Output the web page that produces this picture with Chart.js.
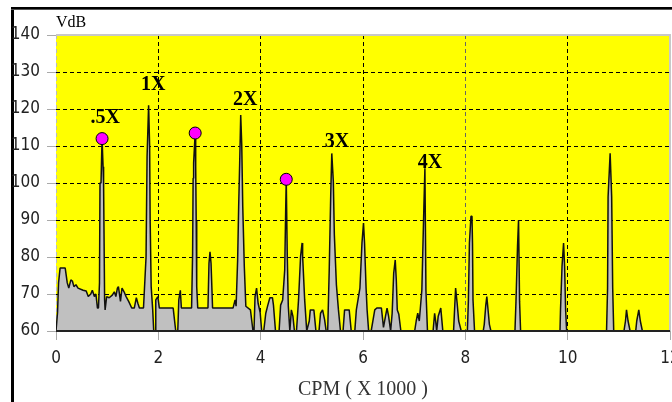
<!DOCTYPE html>
<html><head><meta charset="utf-8">
<script src="https://cdn.jsdelivr.net/npm/chart.js@4/dist/chart.umd.min.js"></script>
<style>
html,body{margin:0;padding:0;background:#fff;overflow:hidden;width:672px;height:402px;}
#wrap{position:absolute;left:0;top:0;width:720px;height:402px;}
</style></head><body>
<div id="wrap"><canvas id="c" width="720" height="402"></canvas></div>
<script>
// ---- data ----
const freqK = [
 0.00,0.03,0.05,0.08,0.18,0.22,0.25,0.29,0.32,0.35,0.39,0.43,0.53,0.59,0.63,0.68,0.71,0.75,0.78,0.81,0.83,0.85,0.86,0.88,0.90,0.92,0.93,0.95,0.96,0.99,
 1.04,1.10,1.14,1.17,1.20,1.22,1.26,1.29,1.33,1.37,1.42,1.48,1.53,1.57,1.60,1.63,1.71,1.76,1.78,1.81,1.83,1.84,1.86,1.89,1.91,1.94,1.95,1.99,
 2.02,2.29,2.34,2.38,2.40,2.43,2.45,2.65,2.67,2.68,2.69,2.72,2.73,2.74,2.75,2.77,2.97,2.99,
 3.01,3.03,3.06,3.46,3.50,3.52,3.55,3.57,3.59,3.61,3.63,3.65,3.68,3.71,3.80,3.85,3.87,3.89,3.92,3.95,3.99,
 4.02,4.06,4.10,4.14,4.18,4.23,4.25,4.29,4.36,4.39,4.43,4.47,4.49,4.50,4.52,4.54,4.57,4.60,4.63,4.66,4.70,4.74,4.78,4.81,4.82,4.86,4.90,4.95,4.97,
 5.04,5.08,5.14,5.17,5.21,5.25,5.28,5.31,5.34,5.37,5.39,5.42,5.44,5.48,5.52,5.56,5.61,5.64,5.73,5.77,5.84,5.87,5.94,5.98,
 6.01,6.03,6.06,6.08,6.11,6.16,6.23,6.27,6.36,6.40,6.44,6.47,6.50,6.54,6.57,6.60,6.63,6.65,6.67,6.70,6.74,
 7.01,7.04,7.07,7.10,7.15,7.19,7.21,7.23,7.26,7.37,7.40,7.42,7.44,7.47,7.52,7.56,7.77,7.81,7.84,7.87,7.92,
 8.04,8.06,8.08,8.11,8.13,8.14,8.15,8.18,8.35,8.37,8.40,8.42,8.45,8.47,8.50,8.97,8.99,
 9.02,9.04,9.06,9.08,9.85,9.86,9.89,9.92,9.94,9.96,9.98,
 10.76,10.78,10.79,10.83,10.86,10.88,10.90,
 11.10,11.13,11.15,11.18,11.22,11.33,11.35,11.39,11.42,11.46,12.00
];
const ampDb = [
 60,65,73,77,77,73,71.6,73.8,73.5,72,72.5,71.6,71,70.8,69.3,70,71,69.3,70,66.2,66.2,73,100,100,112,104.4,100,68.4,65.7,69.3,
 69,69.7,70.6,69.3,71.6,72,68,71.6,70.6,69.3,68,66.2,66.2,69,67.5,66.2,66.2,80,107,121,110,90,72,65.7,60,60,68.4,69.3,
 66.2,66.2,60,60,68.4,71,66.2,66.2,81,101.3,105.4,113.5,104.5,90,72,66.2,66.2,78.3,
 81.4,78.3,66.2,66.2,68.4,66.7,79.2,93.6,105.4,118.4,110.4,93.6,77.5,66.7,65.7,60,60,69.3,71.6,67.5,65,
 60,60,64.8,67,69,69,67,60,60,67,68.4,76.5,93.6,101,80.2,66.7,60,65.7,64,60,60,68.4,80.2,83.8,80.2,68.4,60,62.7,65.7,
 65.7,60,60,64.8,65.7,63,60,60,76.5,97.2,108,100.4,86,72.5,65.7,60,60,65.7,65.7,60,60,65.7,71.6,83.8,
 89.2,83.8,71.6,65.7,60,60,65.7,66.2,66.2,61,64,66.2,64,60,64.8,75.6,79.2,74,65.7,64.5,60,
 60,62.7,64.8,62.7,71,93.6,104,71,60,60,64.8,62.7,60,64,66.2,60,60,71.6,67.5,62.7,60,
 60,68.4,83.8,91,91,83.8,68.4,60,60,61.8,67,69.3,64.8,61.8,60,60,68,
 82.9,90,68,60,60,65.7,77.5,83.8,77.5,65.7,60,
 60,71.6,96.3,108,96.3,71.6,60,
 60,62.7,65.7,62.7,60,60,62.7,65.7,62.7,60,60
];
const markerFreq = [0.90, 2.72, 4.50];
const markerDb = [112, 113.5, 101];
const orderLabels = ['.5X', '1X', '2X', '3X', '4X'];
const orderLabelFreq = [0.96, 1.90, 3.70, 5.49, 7.31];
const orderLabelDb = [117.6, 126.5, 122.4, 111.1, 105.4];
const yTicks = [60, 70, 80, 90, 100, 110, 120, 130, 140];
const xTicks = [0, 2, 4, 6, 8, 10, 12];
const yUnit = 'VdB';
const xTitle = 'CPM ( X 1000 )';

// ---- drawing ----
const tickFont = {family: "'Liberation Sans Narrow','DejaVu Sans Condensed','Arial Narrow',sans-serif", size: 17};

const framePlugin = {
  id: 'frame',
  beforeDraw(chart) {
    const {ctx, chartArea: a} = chart;
    ctx.save();
    ctx.fillStyle = '#fff';
    ctx.fillRect(0, 0, chart.width, chart.height);
    ctx.fillStyle = '#000';
    ctx.fillRect(11, 7, 3, chart.height - 7);
    ctx.fillRect(11, 7, chart.width - 11, 2);
    ctx.fillStyle = '#555';
    ctx.fillRect(11, 9, chart.width - 11, 1);
    ctx.fillStyle = '#ffff00';
    ctx.fillRect(a.left, a.top, a.right - a.left, a.bottom - a.top);
    ctx.restore();
  },
  afterDatasetsDraw(chart) {
    const {ctx, chartArea: a, scales} = chart;
    ctx.save();
    ctx.fillStyle = '#c8c8c8';
    ctx.fillRect(a.left, a.top - 1, a.right - a.left + 1, 2);
    ctx.fillRect(a.right - 1, a.top, 2, a.bottom - a.top);
    ctx.fillStyle = '#222';
    ctx.fillRect(a.left, a.bottom - 1, a.right - a.left, 2);
    ctx.fillStyle = '#000';
    ctx.font = "bold 20px 'Liberation Serif', serif";
    ctx.textAlign = 'center';
    ctx.textBaseline = 'middle';
    orderLabels.forEach((t, i) => {
      ctx.fillText(t, scales.x.getPixelForValue(orderLabelFreq[i]), scales.y.getPixelForValue(orderLabelDb[i]));
    });
    ctx.font = "16px 'Liberation Serif', serif";
    ctx.textAlign = 'left';
    ctx.textBaseline = 'alphabetic';
    ctx.fillText(yUnit, a.left, 27);
    ctx.restore();
  }
};

new Chart(document.getElementById('c'), {
  type: 'scatter',
  data: {
    datasets: [
      {
        data: markerFreq.map((f, i) => ({x: f, y: markerDb[i]})),
        showLine: false,
        pointRadius: 6,
        pointBackgroundColor: '#ff00ff',
        pointBorderColor: '#000',
        pointBorderWidth: 1
      },
      {
        data: freqK.map((f, i) => ({x: f, y: ampDb[i]})),
        showLine: true,
        borderColor: '#111',
        borderWidth: 1.5,
        borderJoinStyle: 'bevel',
        backgroundColor: '#c0c0c0',
        fill: 'start',
        pointRadius: 0,
        tension: 0
      }
    ]
  },
  options: {
    responsive: false,
    animation: false,
    devicePixelRatio: 1,
    layout: {padding: {top: 35, right: 50, left: 0, bottom: 0}},
    plugins: {legend: {display: false}, tooltip: {enabled: false}},
    scales: {
      x: {
        type: 'linear', min: 0, max: 12,
        afterBuildTicks: s => { s.ticks = xTicks.map(v => ({value: v})); },
        afterFit: s => { s.height = 71; },
        ticks: {padding: 8, color: '#222', font: tickFont, maxRotation: 0, autoSkip: false},
        grid: {
          color: c => c.tick.value === 0 ? '#bbb' : (c.tick.value === 8 ? '#666' : (c.tick.value === 12 ? 'rgba(0,0,0,0)' : '#000')),
          lineWidth: 1, tickLength: 9, tickColor: '#aaa'
        },
        border: {display: false, dash: [4, 3]},
        title: {display: true, text: xTitle, color: '#333', font: {family: "'Liberation Serif', serif", size: 20}, padding: {top: 0, bottom: 0}}
      },
      y: {
        type: 'linear', min: 60, max: 140,
        afterBuildTicks: s => { s.ticks = yTicks.map(v => ({value: v})); },
        afterFit: s => { s.width = 56; },
        ticks: {padding: 7, color: '#222', font: tickFont},
        grid: {
          color: c => (c.tick.value === 60 || c.tick.value === 140) ? 'rgba(0,0,0,0)' : '#000',
          lineWidth: 1, tickLength: 9, tickColor: '#aaa'
        },
        border: {display: false, dash: [4, 3]}
      }
    }
  },
  plugins: [framePlugin]
});
</script>
</body></html>
